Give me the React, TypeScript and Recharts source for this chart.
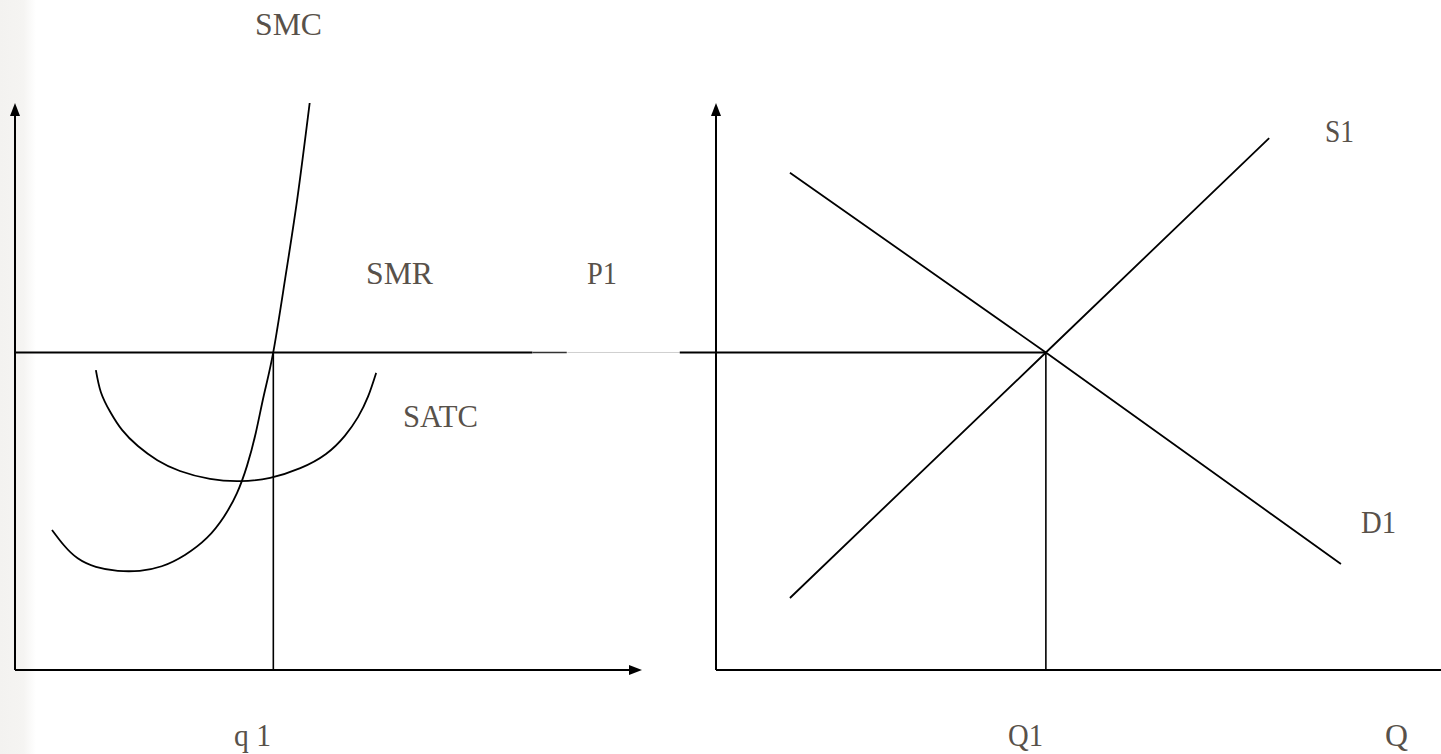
import React from 'react';
import { ComposedChart, Line, XAxis, YAxis, ReferenceDot } from 'recharts';

// ---------- values (economic units) ----------
const P1 = 5.6; // market price / firm marginal revenue
const q1 = 4.12; // firm output
const Q1 = 4.55; // market output

const firmAxisTop = 10;
const firmAxisRight = 10;
const marketAxisTop = 10;
const marketAxisRight = 10.2;

const smcCurve = [
  { x: 0.59, y: 2.47 },
  { x: 0.78, y: 2.2 },
  { x: 1.0, y: 1.97 },
  { x: 1.29, y: 1.82 },
  { x: 1.64, y: 1.75 },
  { x: 1.99, y: 1.75 },
  { x: 2.34, y: 1.83 },
  { x: 2.71, y: 2.03 },
  { x: 3.06, y: 2.33 },
  { x: 3.33, y: 2.7 },
  { x: 3.54, y: 3.12 },
  { x: 3.7, y: 3.6 },
  { x: 3.84, y: 4.18 },
  { x: 3.97, y: 4.85 },
  { x: 4.12, y: 5.61 },
  { x: 4.31, y: 6.91 },
  { x: 4.5, y: 8.29 },
  { x: 4.7, y: 10.0 },
];

const satcCurve = [
  { x: 1.29, y: 5.29 },
  { x: 1.37, y: 4.9 },
  { x: 1.52, y: 4.55 },
  { x: 1.71, y: 4.23 },
  { x: 1.96, y: 3.95 },
  { x: 2.27, y: 3.7 },
  { x: 2.63, y: 3.51 },
  { x: 3.11, y: 3.37 },
  { x: 3.59, y: 3.33 },
  { x: 4.07, y: 3.39 },
  { x: 4.55, y: 3.56 },
  { x: 4.96, y: 3.81 },
  { x: 5.26, y: 4.13 },
  { x: 5.47, y: 4.46 },
  { x: 5.63, y: 4.82 },
  { x: 5.76, y: 5.24 },
];

const s1Curve = [
  { x: 1.02, y: 1.27 },
  { x: Q1, y: P1 },
  { x: 7.63, y: 9.38 },
];

const d1Curve = [
  { x: 1.02, y: 8.77 },
  { x: Q1, y: P1 },
  { x: 8.62, y: 1.87 },
];

const smrLine = [
  { x: 0, y: P1 },
  { x: 8.25, y: P1 },
];
const smrTail = [
  { x: 8.25, y: P1 },
  { x: 8.8, y: P1 },
];
const priceConnector = [
  { x: -2.05, y: P1 },
  { x: -0.5, y: P1 },
];
const marketPriceLine = [
  { x: -0.5, y: P1 },
  { x: Q1, y: P1 },
];
const q1Drop = [
  { x: q1, y: P1 },
  { x: q1, y: 0 },
];
const Q1Drop = [
  { x: Q1, y: P1 },
  { x: Q1, y: 0 },
];

const firmYAxis = [
  { x: 0, y: 0 },
  { x: 0, y: firmAxisTop - 0.2 },
];
const firmXAxis = [
  { x: 0, y: 0 },
  { x: firmAxisRight - 0.18, y: 0 },
];
const marketYAxis = [
  { x: 0, y: 0 },
  { x: 0, y: marketAxisTop - 0.2 },
];
const marketXAxis = [
  { x: 0, y: 0 },
  { x: marketAxisRight - 0.15, y: 0 },
];

const labelTexts = ['SMC', 'SMR', 'P1', 'SATC', 'q 1', 'S1', 'D1', 'Q1', 'Q'];

// ---------- layout ----------
const W = 1441;
const H = 754;
const PRICE_ORIGIN_Y = 670;
const PX_PER_PRICE = 56.7;
const FIRM_ORIGIN_X = 15;
const PX_PER_FIRM_Q = 62.7;
const MKT_ORIGIN_X = 716;
const PX_PER_MKT_Q = 72.5;

const priceDomain = [(PRICE_ORIGIN_Y - H) / PX_PER_PRICE, PRICE_ORIGIN_Y / PX_PER_PRICE];
const firmDomain = [-FIRM_ORIGIN_X / PX_PER_FIRM_Q, (W - FIRM_ORIGIN_X) / PX_PER_FIRM_Q];
const marketDomain = [-MKT_ORIGIN_X / PX_PER_MKT_Q, (W - MKT_ORIGIN_X) / PX_PER_MKT_Q];

// label placement: [left x, baseline y, rendered width]
const labelLayout: Record<string, [number, number, number]> = {
  SMC: [255, 35, 67],
  SMR: [366, 284, 67],
  P1: [587, 284, 30],
  SATC: [403, 427, 75],
  'q 1': [234, 746, 37],
  S1: [1325, 142, 29],
  D1: [1361, 533, 35],
  Q1: [1008, 746, 35],
  Q: [1385, 746, 23],
};

const INK = '#000';
const TEXT = '#58514a';

const upArrow = (p: any) => (
  <polygon
    points={`${p.cx},${p.cy} ${p.cx - 5},${p.cy + 13} ${p.cx + 5},${p.cy + 13}`}
    fill={INK}
  />
);
const rightArrow = (p: any) => (
  <polygon
    points={`${p.cx},${p.cy} ${p.cx - 13},${p.cy - 5} ${p.cx - 13},${p.cy + 5}`}
    fill={INK}
  />
);

const seg = (
  key: string,
  data: any[],
  axis: 'firm' | 'market',
  opts: { stroke?: string; width?: number; type?: any } = {}
) => (
  <Line
    key={key}
    data={data}
    dataKey="y"
    xAxisId={axis}
    yAxisId="price"
    type={opts.type || 'linear'}
    stroke={opts.stroke || INK}
    strokeWidth={opts.width ?? 2}
    dot={false}
    activeDot={false}
    isAnimationActive={false}
    legendType="none"
  />
);

export default function App() {
  return (
    <div style={{ position: 'absolute', left: 0, top: 0, width: W, height: H, background: '#fff' }}>
      <div
        style={{
          position: 'absolute',
          left: 0,
          top: 0,
          width: 36,
          height: H,
          background: 'linear-gradient(to right, #f3f2f0 0%, #f5f4f2 65%, #ffffff 100%)',
        }}
      />
      <div style={{ position: 'absolute', left: 0, top: 0 }}>
        <ComposedChart width={W} height={H} margin={{ top: 0, right: 0, bottom: 0, left: 0 }}>
          <XAxis xAxisId="firm" dataKey="x" type="number" domain={firmDomain} allowDataOverflow hide />
          <XAxis xAxisId="market" dataKey="x" type="number" domain={marketDomain} allowDataOverflow hide />
          <YAxis yAxisId="price" type="number" domain={priceDomain} allowDataOverflow hide />

          {seg('firmY', firmYAxis, 'firm')}
          {seg('firmX', firmXAxis, 'firm')}
          {seg('mktY', marketYAxis, 'market')}
          {seg('mktX', marketXAxis, 'market')}

          {seg('smr', smrLine, 'firm')}
          {seg('smrTail', smrTail, 'firm', { stroke: '#333', width: 1.6 })}
          {seg('conn', priceConnector, 'market', { stroke: '#cfcfcf', width: 1 })}
          {seg('mktP', marketPriceLine, 'market')}
          {seg('q1drop', q1Drop, 'firm', { width: 1.6 })}
          {seg('Q1drop', Q1Drop, 'market', { width: 1.6 })}

          {seg('smc', smcCurve, 'firm', { type: 'natural', width: 1.8 })}
          {seg('satc', satcCurve, 'firm', { type: 'natural', width: 1.8 })}
          {seg('s1', s1Curve, 'market', { width: 1.8 })}
          {seg('d1', d1Curve, 'market', { width: 1.8 })}

          <ReferenceDot xAxisId="firm" yAxisId="price" x={0} y={firmAxisTop} r={0} ifOverflow="visible" shape={upArrow} />
          <ReferenceDot xAxisId="firm" yAxisId="price" x={firmAxisRight} y={0} r={0} ifOverflow="visible" shape={rightArrow} />
          <ReferenceDot xAxisId="market" yAxisId="price" x={0} y={marketAxisTop} r={0} ifOverflow="visible" shape={upArrow} />
          <ReferenceDot xAxisId="market" yAxisId="price" x={marketAxisRight} y={0} r={0} ifOverflow="visible" shape={rightArrow} />
        </ComposedChart>
      </div>
      <svg
        width={W}
        height={H}
        style={{ position: 'absolute', left: 0, top: 0, pointerEvents: 'none' }}
      >
        {labelTexts.map((t) => {
          const [x, y, w] = labelLayout[t];
          return (
            <text
              key={t}
              x={x}
              y={y}
              textLength={w}
              lengthAdjust="spacingAndGlyphs"
              fontFamily="'Liberation Serif', 'Times New Roman', serif"
              fontSize={31}
              fill={TEXT}
            >
              {t}
            </text>
          );
        })}
      </svg>
    </div>
  );
}
